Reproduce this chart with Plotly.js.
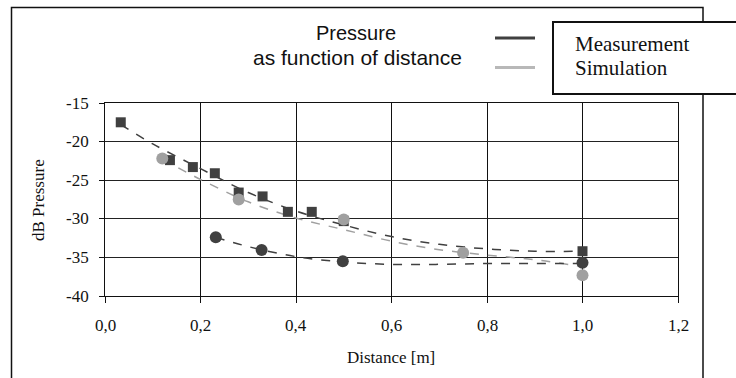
<!DOCTYPE html>
<html>
<head>
<meta charset="utf-8">
<script src="https://cdn.plot.ly/plotly-3.0.1.min.js"></script>
<style>html,body{margin:0;padding:0;background:#fff}#chart{width:736px;height:378px}</style>
</head>
<body>
<div id="chart"></div>
<script>
// Measurement (squares)
const measX = [0.033, 0.136, 0.184, 0.230, 0.280, 0.330, 0.383, 0.433, 0.500, 1.0];
const measY = [-17.5, -22.4, -23.3, -24.1, -26.6, -27.1, -29.1, -29.1, -30.3, -34.2];
// Measurement (dark circles)
const meas2X = [0.232, 0.328, 0.498, 1.0];
const meas2Y = [-32.4, -34.05, -35.5, -35.7];
// Simulation (grey circles)
const simX = [0.12, 0.28, 0.50, 0.75, 1.0];
const simY = [-22.2, -27.5, -30.1, -34.4, -37.3];
// Trend lines
const measTrendX = [0.033, 0.1, 0.2, 0.3, 0.4, 0.5, 0.6, 0.7, 0.8, 0.9, 1.0];
const measTrendY = [-17.8, -20.3, -23.5, -26.6, -29.0, -30.8, -32.3, -33.3, -33.9, -34.2, -34.2];
const simTrendX = [0.12, 0.2, 0.3, 0.4, 0.5, 0.6, 0.7, 0.8, 0.9, 1.0];
const simTrendY = [-22.3, -24.9, -27.8, -29.9, -31.4, -32.9, -34.0, -34.7, -35.3, -36.2];
const meas2TrendX = [0.232, 0.3, 0.4, 0.5, 0.6, 0.7, 0.8, 0.9, 1.0];
const meas2TrendY = [-32.4, -33.6, -34.9, -35.6, -35.9, -35.9, -35.8, -35.8, -35.8];

const xTicks = [0, 0.2, 0.4, 0.6, 0.8, 1.0, 1.2];
const xTickText = ['0,0', '0,2', '0,4', '0,6', '0,8', '1,0', '1,2'];
const yTicks = [-40, -35, -30, -25, -20, -15];
const yTickText = ['-40', '-35', '-30', '-25', '-20', '-15'];

const dark = '#404040', grey = '#a0a0a0';
const serif = "Liberation Serif";
const sans = "Liberation Sans";

const traces = [
  {x: simTrendX, y: simTrendY, mode: 'lines', line: {color: grey, width: 1.5, dash: 'dash', shape: 'spline'}, hoverinfo: 'skip'},
  {x: measTrendX, y: measTrendY, mode: 'lines', line: {color: dark, width: 1.5, dash: 'dash', shape: 'spline'}, hoverinfo: 'skip'},
  {x: meas2TrendX, y: meas2TrendY, mode: 'lines', line: {color: dark, width: 1.5, dash: 'dash', shape: 'spline'}, hoverinfo: 'skip'},
  {x: measX, y: measY, mode: 'markers', marker: {symbol: 'square', size: 10, color: dark}},
  {x: meas2X, y: meas2Y, mode: 'markers', marker: {symbol: 'circle', size: 12, color: dark}},
  {x: simX, y: simY, mode: 'markers', marker: {symbol: 'circle', size: 12, color: grey}}
];

// pixel helpers for paper coordinates (plot: 105..678 x, 103..296 y)
const L = 105, R = 678, T = 103, B = 296;
const px = v => (v - L) / (R - L);
const py = v => (B - v) / (B - T);

const tickFont = {family: serif, size: 17, color: '#111'};
const tickAnns = [];
xTicks.forEach((v, i) => tickAnns.push({xref: 'x', yref: 'paper', x: v, y: py(325), xanchor: 'center', yanchor: 'middle',
  showarrow: false, text: xTickText[i], font: tickFont}));
yTicks.forEach((v, i) => tickAnns.push({xref: 'paper', yref: 'y', x: px(91), y: v, xanchor: 'right', yanchor: 'middle',
  showarrow: false, text: yTickText[i], font: tickFont}));

const layout = {
  width: 736, height: 378,
  margin: {l: L, r: 736 - R, t: T, b: 378 - B},
  paper_bgcolor: '#fff', plot_bgcolor: '#fff',
  font: {family: serif, size: 17, color: '#111'},
  showlegend: false,
  xaxis: {
    range: [0, 1.2], tickmode: 'array', tickvals: xTicks, showticklabels: false,
    showgrid: true, gridcolor: '#111', gridwidth: 1,
    showline: true, linecolor: '#111', linewidth: 1, mirror: true,
    ticks: 'outside', ticklen: 6, tickcolor: '#111',
    zeroline: false, fixedrange: true
  },
  yaxis: {
    range: [-40, -15], tickmode: 'array', tickvals: yTicks, showticklabels: false,
    showgrid: true, gridcolor: '#222', gridwidth: 1,
    showline: true, linecolor: '#111', linewidth: 1, mirror: true,
    ticks: 'outside', ticklen: 5, tickcolor: '#111',
    zeroline: false, fixedrange: true
  },
  shapes: [
    {type: 'rect', xref: 'paper', yref: 'paper', x0: px(11.5), x1: px(703), y0: py(390), y1: py(7.5),
     line: {color: '#111', width: 1.5}, fillcolor: 'rgba(0,0,0,0)', layer: 'below'},
    {type: 'rect', xref: 'paper', yref: 'paper', x0: px(553), x1: px(770), y0: py(94), y1: py(22),
     line: {color: '#111', width: 2}, fillcolor: '#fff', layer: 'above'},
    {type: 'line', xref: 'paper', yref: 'paper', x0: px(495), x1: px(535), y0: py(38), y1: py(38),
     line: {color: dark, width: 3}},
    {type: 'line', xref: 'paper', yref: 'paper', x0: px(495), x1: px(535), y0: py(67.5), y1: py(67.5),
     line: {color: '#b8b8b8', width: 3}}
  ],
  annotations: tickAnns.concat([
    {xref: 'paper', yref: 'paper', x: px(356), y: py(33), xanchor: 'center', yanchor: 'middle', showarrow: false,
     text: 'Pressure', font: {family: sans, size: 20, color: '#111'}},
    {xref: 'paper', yref: 'paper', x: px(357), y: py(57), xanchor: 'center', yanchor: 'middle', showarrow: false,
     text: 'as function of distance', font: {family: sans, size: 21, color: '#111'}},
    {xref: 'paper', yref: 'paper', x: px(573), y: py(44), xanchor: 'left', yanchor: 'middle', showarrow: false,
     text: 'Measurement', font: {family: serif, size: 21, color: '#111'}},
    {xref: 'paper', yref: 'paper', x: px(573), y: py(68), xanchor: 'left', yanchor: 'middle', showarrow: false,
     text: 'Simulation', font: {family: serif, size: 21, color: '#111'}},
    {xref: 'paper', yref: 'paper', x: px(391), y: py(357), xanchor: 'center', yanchor: 'middle', showarrow: false,
     text: 'Distance [m]', font: {family: serif, size: 17, color: '#111'}},
    {xref: 'paper', yref: 'paper', x: px(38), y: py(200), xanchor: 'center', yanchor: 'middle', showarrow: false,
     textangle: -90, text: 'dB Pressure', font: {family: serif, size: 17, color: '#111'}}
  ])
};

Plotly.newPlot('chart', traces, layout, {displayModeBar: false, staticPlot: true});
</script>
</body>
</html>
